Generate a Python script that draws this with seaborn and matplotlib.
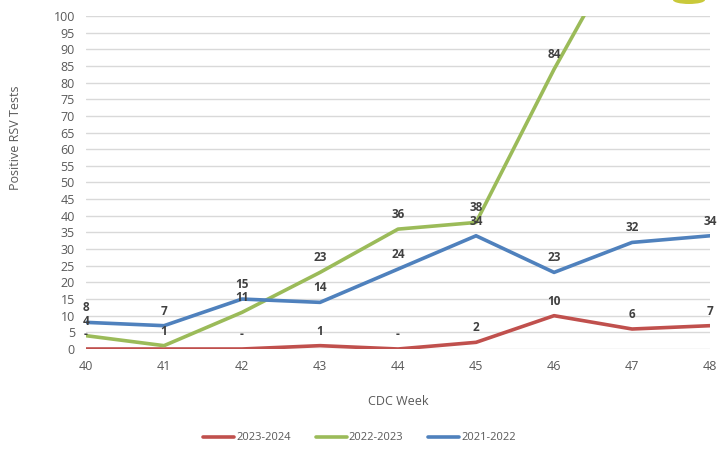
import numpy as np
import pandas as pd
import seaborn as sns
import matplotlib.pyplot as plt
from matplotlib.patches import Ellipse

# --- DATA ---
weeks = [40, 41, 42, 43, 44, 45, 46, 47, 48]
s_2324 = [0, 0, 0, 1, 0, 2, 10, 6, 7]
s_2223 = [4, 1, 11, 23, 36, 38, 84, 126, 150]   # 47/48 run off the top of the chart
s_2122 = [8, 7, 15, 14, 24, 34, 23, 32, 34]
season_names = ["2023-2024", "2022-2023", "2021-2022"]
season_colors = ["#C0504D", "#9BBB59", "#4F81BD"]

df = pd.DataFrame({
    "week": weeks * 3,
    "tests": s_2324 + s_2223 + s_2122,
    "season": sum([[n] * len(weeks) for n in season_names], []),
})

sns.set_style("white")
plt.rcParams['font.family'] = ['Open Sans', 'DejaVu Sans']

fig = plt.figure(figsize=(7.19, 4.53), dpi=100)
ax = fig.add_axes([0.1196, 0.2296, 0.868, 0.7351])

sns.lineplot(data=df, x="week", y="tests", hue="season", hue_order=season_names,
             palette=season_colors, linewidth=2.6, ax=ax, legend=False)

# --- DATA LABELS ---
for vals in [s_2324, s_2223, s_2122]:
    for w, v in zip(weeks, vals):
        if v > 95:
            continue
        # the red "-" at week 41 is hidden under the green "1" in the original
        if vals is s_2324 and w == 41:
            continue
        txt = "-" if v == 0 else str(v)
        ax.annotate(txt, (w, v), xytext=(0, 10.5), textcoords="offset points",
                    ha="center", va="center", fontsize=8.5, fontweight="bold",
                    color="#404040")

ax.set_xlim(40, 48)
ax.set_ylim(0, 100)
ax.set_xticks(weeks)
ax.set_yticks(np.arange(0, 101, 5))
ax.grid(axis="y", color="#D9D9D9", linewidth=1)
ax.set_axisbelow(True)
for sp in ax.spines.values():
    sp.set_visible(False)
ax.tick_params(axis="both", length=0, labelsize=9, labelcolor="#595959", pad=8)

ax.set_xlabel("CDC Week", fontsize=9, color="#595959", labelpad=16)
ax.set_ylabel("")
fig.text(0.021, 1 - 138 / 453, "Positive RSV Tests", rotation=90, ha="center",
         va="center", fontsize=9, color="#595959")

# legend
handles = [plt.Line2D([], [], color=c, linewidth=2.6) for c in season_colors]
fig.legend(handles, season_names, loc="center", bbox_to_anchor=(0.5, 1 - 438 / 453),
           ncol=3, frameon=False, fontsize=8, labelcolor="#595959",
           handlelength=2.8, handletextpad=0.2, columnspacing=2.2)

# partial logo at top right
fig.patches.append(Ellipse((689 / 719, 1.0), 32 / 719, 8 / 453, transform=fig.transFigure,
                           facecolor="#C9C93A", edgecolor="none"))

plt.savefig("out.png", dpi=100)
